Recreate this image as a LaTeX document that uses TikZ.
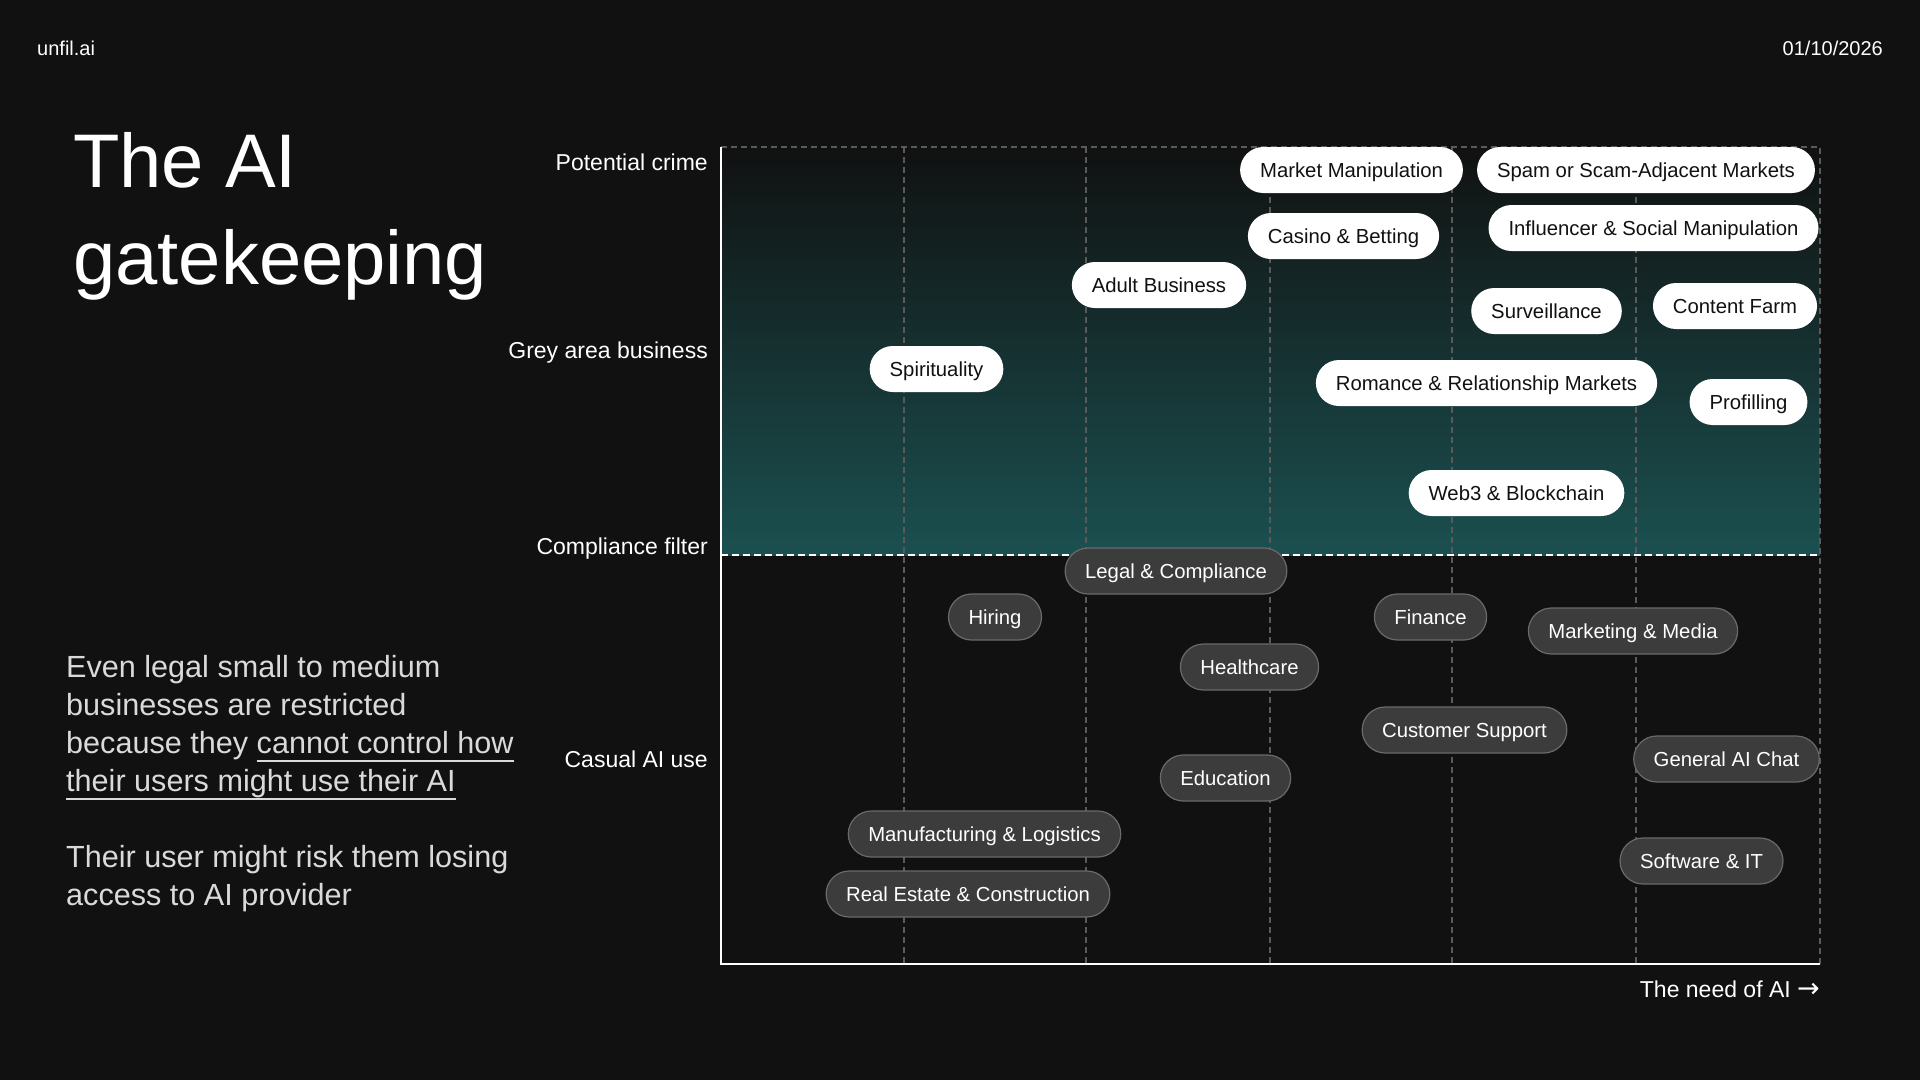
\documentclass[tikz,border=0pt]{standalone}
\usepackage{fontspec}
\setmainfont{Liberation Sans}
\newfontfamily\arrowfont{DejaVu Sans}
\newsavebox\ulbox
\newcommand\ulinetext[1]{\sbox\ulbox{#1}\rlap{\rule[-9pt]{\wd\ulbox}{2pt}}\usebox\ulbox}
\definecolor{bgdark}{HTML}{111111}
\definecolor{zoneteal}{HTML}{1B5050}
\definecolor{pillgray}{HTML}{3C3C3C}
\definecolor{pilledge}{HTML}{6A6A6A}
\definecolor{gridgray}{HTML}{5A5A5A}
\definecolor{bodygray}{HTML}{DADADA}
\begin{document}
\begin{tikzpicture}[x=1pt, y=-1pt,
        pill/.style={rounded corners=23pt, minimum height=46pt, inner xsep=20pt, inner ysep=0pt,
          text height=15pt, text depth=1pt, font=\fontsize{20.3}{24}\selectfont},
        pillw/.style={pill, fill=white, text=bgdark},
        pilld/.style={pill, fill=pillgray, draw=pilledge, line width=1.2pt, text=white},
        axlbl/.style={anchor=base east, inner sep=0pt, text=white, font=\fontsize{23}{28}\selectfont},
        gridln/.style={draw=gridgray, line width=1.3pt, dash pattern=on 6pt off 4pt},
        body/.style={anchor=north west, inner sep=0pt, align=left, text=bodygray, font=\fontsize{30.6}{38}\selectfont}]
      \useasboundingbox (0,0) rectangle (1920,1080);
      \fill[bgdark] (0,0) rectangle (1920,1080);
      % chart frame
      \coordinate (tl) at (721,147);
      \coordinate (tr) at (1820,147);
      \coordinate (bl) at (721,964);
      \coordinate (br) at (1820,964);
      \coordinate (cl) at (721,555);
      \coordinate (cr) at (1820,555);
      \fill[top color=bgdark, bottom color=zoneteal] (tl) rectangle (cr);
      \foreach \gx in {904,1086,1270,1452,1636}
        \draw[gridln] (\gx,147) -- (\gx,964);
      \draw[gridln] (tl) -- (tr) -- (br);
      \draw[white, line width=2pt, dash pattern=on 7pt off 4pt] (cl) -- (cr);
      \draw[white, line width=2pt] (tl) -- (bl) -- (br);
      % header
      \node[anchor=base west, inner sep=0pt, text=white, font=\fontsize{20}{24}\selectfont] (brand) at (37,55) {unfil.ai};
      \node[anchor=base east, inner sep=0pt, text=white, font=\fontsize{20}{24}\selectfont] (date) at (1883,55) {01/10/2026};
      % title and text
      \node[anchor=base west, inner sep=0pt, text=white, font=\fontsize{76}{97}\selectfont] (title1) at (73,187) {The AI};
      \node[anchor=base west, inner sep=0pt, text=white, font=\fontsize{76}{97}\selectfont] (title2) at (73,284) {gatekeeping};
      \node[body] (para1) at (66,655) {Even legal small to medium\\businesses are restricted\\because they \ulinetext{cannot control how}\\\ulinetext{their users might use their AI}};
      \node[body] (para2) at (66,845) {Their user might risk them losing\\access to AI provider};
      % axis labels
      \node[axlbl] (crime) at (708,170) {Potential crime};
      \node[axlbl] (grey)  at (708,358) {Grey area business};
      \node[axlbl] (filt)  at (708,554) {Compliance filter};
      \node[axlbl] (casual) at (708,767) {Casual AI use};
      \node[axlbl] (need)  at (1820,997) {The need of AI {\arrowfont\fontsize{27}{28}\selectfont →}};
      % grey area and crime
      \node[pillw] (mkt)   at (1351.5,170) {Market Manipulation};
      \node[pillw] (spam)  at (1646,170)   {Spam or Scam-Adjacent Markets};
      \node[pillw] (casino) at (1343.5,236) {Casino \& Betting};
      \node[pillw] (infl)  at (1653.5,228) {Influencer \& Social Manipulation};
      \node[pillw] (adult) at (1159,285)   {Adult Business};
      \node[pillw] (surv)  at (1546.5,311) {Surveillance};
      \node[pillw] (farm)  at (1735,306)   {Content Farm};
      \node[pillw] (spirit) at (936.5,369) {Spirituality};
      \node[pillw] (romance) at (1486.5,383) {Romance \& Relationship Markets};
      \node[pillw] (prof)  at (1748.5,402) {Profilling};
      \node[pillw] (web3)  at (1516.5,493) {Web3 \& Blockchain};
      % casual use
      \node[pilld] (legal) at (1176,571)   {Legal \& Compliance};
      \node[pilld] (hire)  at (995,617)    {Hiring};
      \node[pilld] (fin)   at (1430.5,617) {Finance};
      \node[pilld] (media) at (1633,631)   {Marketing \& Media};
      \node[pilld] (health) at (1249.5,667) {Healthcare};
      \node[pilld] (cs)    at (1464.5,730) {Customer Support};
      \node[pilld] (chat)  at (1726.5,759) {General AI Chat};
      \node[pilld] (edu)   at (1225.5,778) {Education};
      \node[pilld] (manu)  at (984.5,834)  {Manufacturing \& Logistics};
      \node[pilld] (soft)  at (1701.5,861) {Software \& IT};
      \node[pilld] (estate) at (968,894)   {Real Estate \& Construction};
    \end{tikzpicture}
\end{document}
